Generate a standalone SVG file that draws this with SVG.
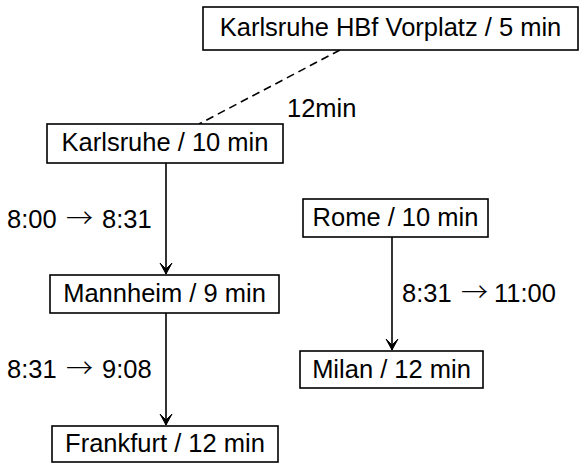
<svg xmlns="http://www.w3.org/2000/svg" width="580" height="463" viewBox="0 0 580 463">
  <style>
    .box { fill: #fff; stroke: #000; stroke-width: 1.6; }
    .lbl { font-family: "Liberation Sans", Arial, sans-serif; font-size: 25.5px; fill: #000; }
    .arr { font-family: "Noto Sans CJK JP", "DejaVu Sans", sans-serif; font-size: 27px; font-weight: 300; }
    .edge { stroke: #000; stroke-width: 1.6; fill: none; }
  </style>
  <defs>
    <marker id="tip" viewBox="-12 -7 13 14" refX="0" refY="0" markerWidth="13" markerHeight="14" markerUnits="userSpaceOnUse" orient="auto">
      <path d="M0,0 L-11,-6 Q-6,-1 -5,0 Q-6,1 -11,6 Z" fill="#000" stroke="#000" stroke-width="1" stroke-linejoin="round"/>
    </marker>
  </defs>

  <g id="connectors">
    <line class="edge" x1="340" y1="50" x2="199" y2="124" stroke-dasharray="8,5"/>
    <text class="lbl" x="287" y="117">12min</text>
    <line class="edge" x1="166" y1="163" x2="166" y2="274" marker-end="url(#tip)"/>
    <text class="lbl" x="7" y="228">8:00<tspan class="arr" x="66">→</tspan><tspan x="102">8:31</tspan></text>
    <line class="edge" x1="166" y1="313" x2="166" y2="425" marker-end="url(#tip)"/>
    <text class="lbl" x="7" y="378">8:31<tspan class="arr" x="66">→</tspan><tspan x="102">9:08</tspan></text>
    <line class="edge" x1="392" y1="237" x2="392" y2="350" marker-end="url(#tip)"/>
    <text class="lbl" x="402" y="302">8:31<tspan class="arr" x="461">→</tspan><tspan x="494">11:00</tspan></text>
  </g>

  <g id="karlsruhe-hbf">
    <rect class="box" x="203" y="7" width="375" height="43"/>
    <text class="lbl" x="390.5" y="36" text-anchor="middle">Karlsruhe HBf Vorplatz / 5 min</text>
  </g>
  <g id="karlsruhe">
    <rect class="box" x="47" y="124" width="236" height="39"/>
    <text class="lbl" x="165" y="151" text-anchor="middle">Karlsruhe / 10 min</text>
  </g>
  <g id="mannheim">
    <rect class="box" x="50" y="275" width="229" height="38"/>
    <text class="lbl" x="164.5" y="302" text-anchor="middle">Mannheim / 9 min</text>
  </g>
  <g id="frankfurt">
    <rect class="box" x="52" y="426" width="226" height="36"/>
    <text class="lbl" x="165" y="452" text-anchor="middle">Frankfurt / 12 min</text>
  </g>
  <g id="rome">
    <rect class="box" x="303" y="199" width="185" height="38"/>
    <text class="lbl" x="395.5" y="226" text-anchor="middle">Rome / 10 min</text>
  </g>
  <g id="milan">
    <rect class="box" x="300" y="351" width="183" height="37"/>
    <text class="lbl" x="391.5" y="378" text-anchor="middle">Milan / 12 min</text>
  </g>
</svg>
